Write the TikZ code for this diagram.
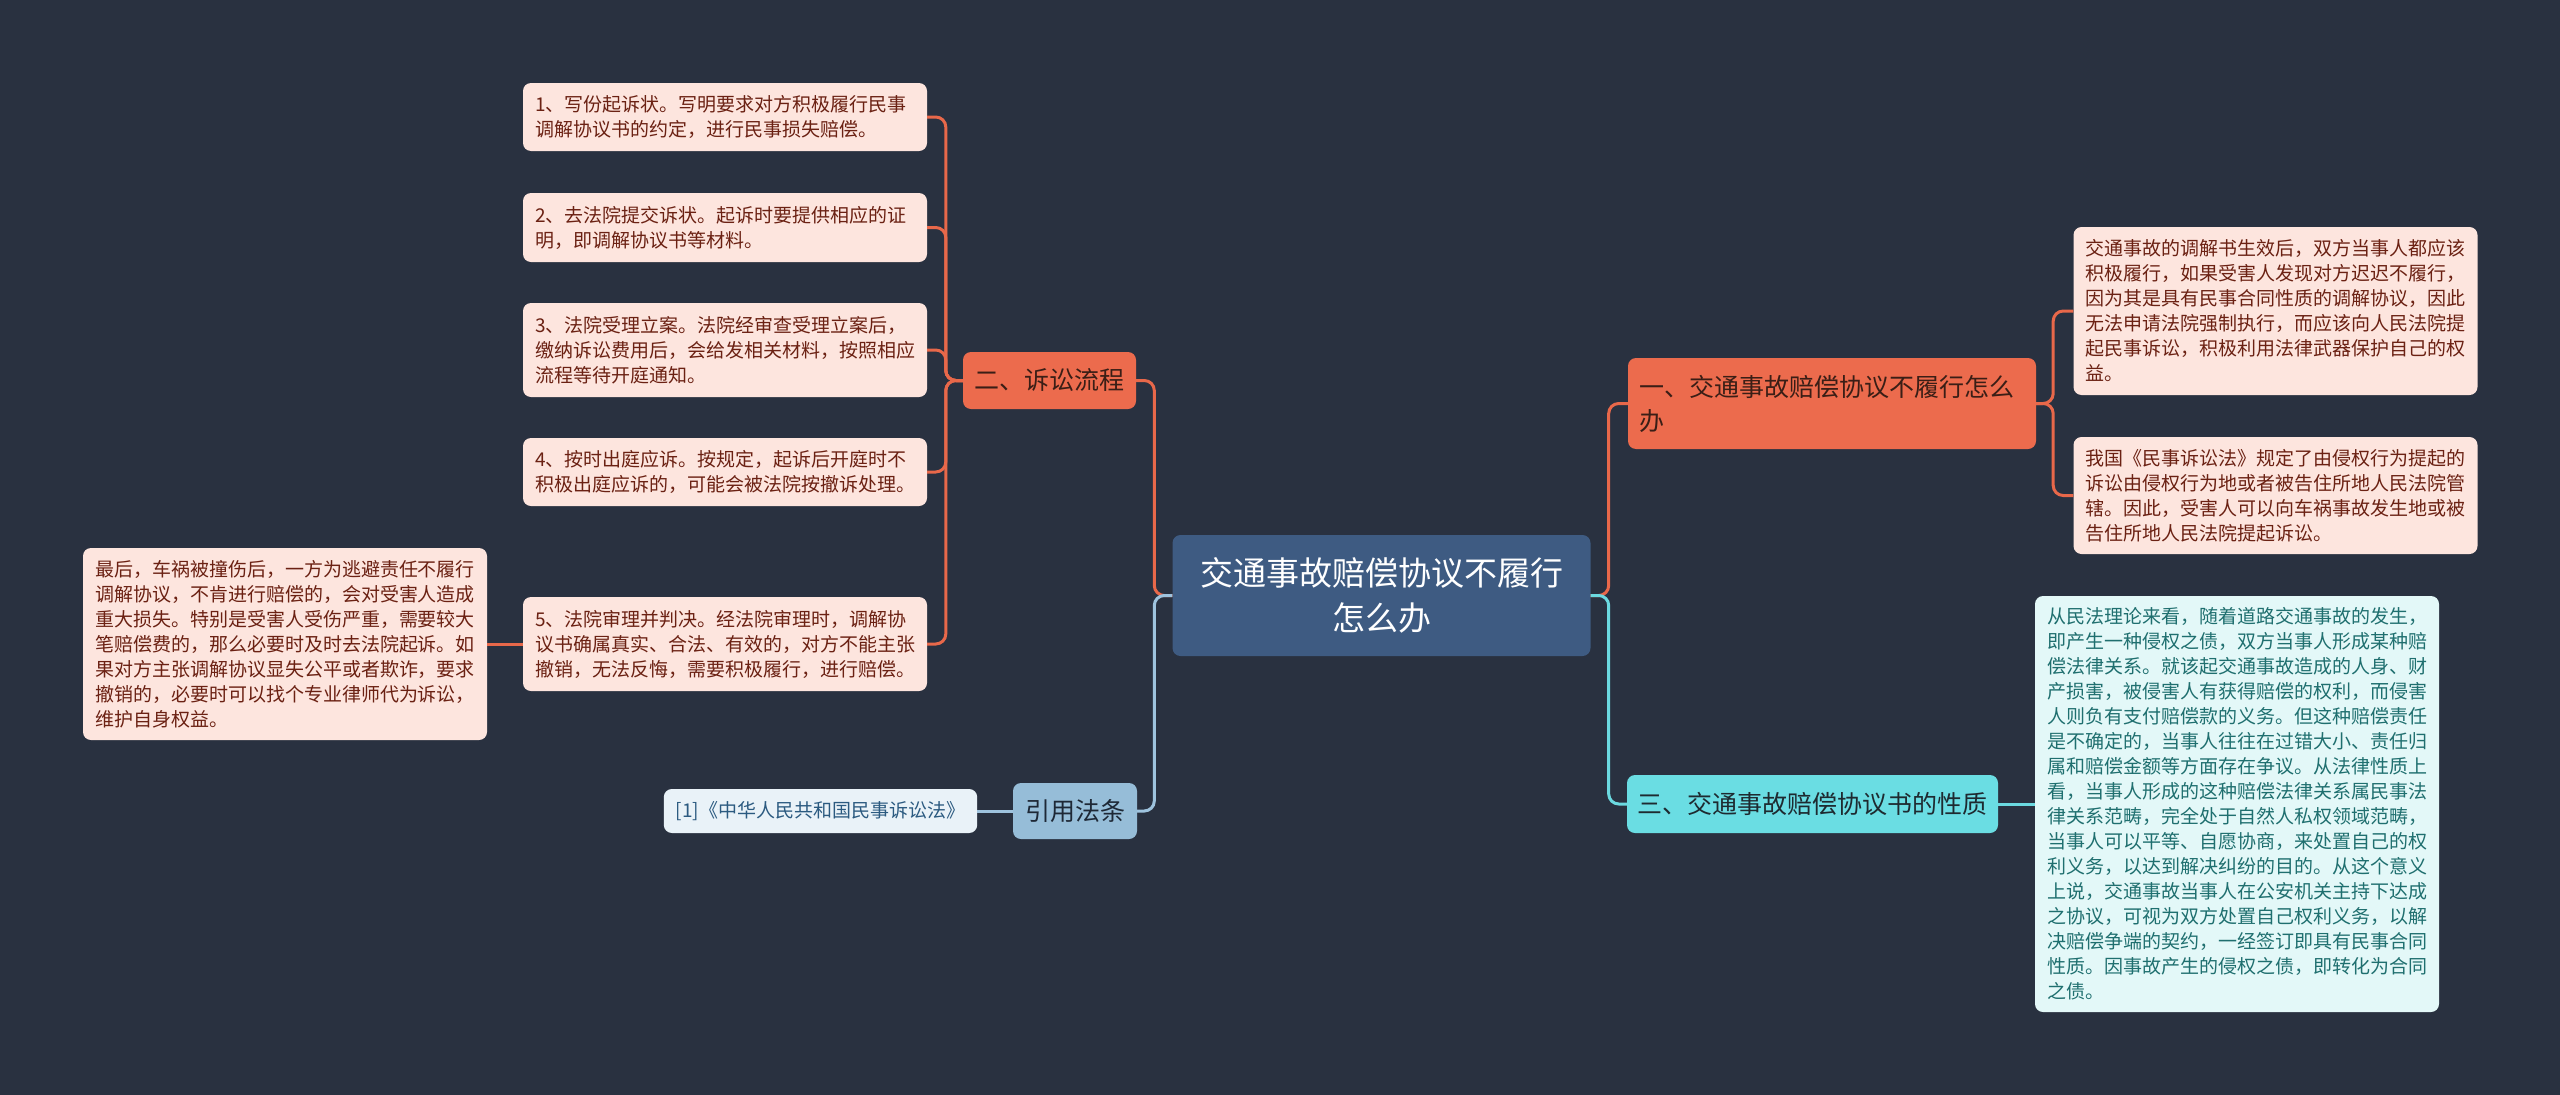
\documentclass[tikz,border=0pt]{standalone}
\usepackage{fontspec}
\setmainfont{Noto Sans CJK SC}
\usetikzlibrary{positioning}

\definecolor{bgdark}{HTML}{293140}
\definecolor{rootblue}{HTML}{3E5B82}
\definecolor{orangemain}{HTML}{EC6B4D}
\definecolor{orangetext}{HTML}{3A1E16}
\definecolor{pinkleaf}{HTML}{FDE5DE}
\definecolor{pinktext}{HTML}{6B2113}
\definecolor{orangeedge}{HTML}{E8684A}
\definecolor{cyanmain}{HTML}{6ADDE3}
\definecolor{cyantext}{HTML}{1E2A30}
\definecolor{cyanleaf}{HTML}{E3F8F8}
\definecolor{cyanleaftext}{HTML}{1F6F6F}
\definecolor{cyanedge}{HTML}{6BD9E0}
\definecolor{citeblue}{HTML}{96BDD8}
\definecolor{citetext}{HTML}{1E2836}
\definecolor{citeleaf}{HTML}{E9F2F8}
\definecolor{citeleaftext}{HTML}{2B5A80}
\definecolor{citeedge}{HTML}{9EC3DE}

\newcommand{\leaffont}{\fontsize{19pt}{25pt}\selectfont}
\newcommand{\mainfont}{\fontsize{25pt}{34pt}\selectfont}
\newcommand{\rootfont}{\fontsize{33pt}{45pt}\selectfont}

\tikzset{
    rootnode/.style={fill=rootblue,text=white,rounded corners=8pt,
        align=center,inner sep=0pt,font=\rootfont},
    mainnode/.style={rounded corners=8pt,inner sep=0pt,font=\mainfont},
    leafnode/.style={rounded corners=8pt,inner xsep=12pt,inner ysep=0pt,
        font=\leaffont},
    textleaf/.style={leafnode,text width=380pt,align=left},
    orangeleaf/.style={textleaf,fill=pinkleaf,text=pinktext},
    edgeline/.style={line width=3pt,rounded corners=10pt},
}

\begin{document}
\begin{tikzpicture}[x=1pt,y=-1pt]
    \useasboundingbox[fill=bgdark] (0,0) rectangle (2560,1095);

    % centre
    \node[rootnode,minimum width=418pt,minimum height=121pt] (root) at(1381.5,595.5)
        {交通事故赔偿协议不履行\\怎么办};

    % main topics
    \node[mainnode,fill=orangemain,text=orangetext,
        minimum width=173pt,minimum height=57pt] (two) at(1049.5,380.5) {二、诉讼流程};
    \node[mainnode,fill=citeblue,text=citetext,
        minimum width=124pt,minimum height=56pt] (cite) at(1075,811) {引用法条};
    \node[mainnode,fill=orangemain,text=orangetext,inner xsep=11pt,
        text width=386pt,align=left,minimum height=91pt] (one) at(1832,403.5)
        {一、交通事故赔偿协议不履行怎么\\办};
    \node[mainnode,fill=cyanmain,text=cyantext,
        minimum width=371pt,minimum height=58pt] (three) at(1812.5,804)
        {三、交通事故赔偿协议书的性质};

    % litigation steps
    \node[orangeleaf,minimum height=68pt] (l1) at(725,117)
        {1、写份起诉状。写明要求对方积极履行民事\\调解协议书的约定，进行民事损失赔偿。};
    \node[orangeleaf,minimum height=69pt] (l2) at(725,227.5)
        {2、去法院提交诉状。起诉时要提供相应的证\\明，即调解协议书等材料。};
    \node[orangeleaf,minimum height=94pt] (l3) at(725,350)
        {3、法院受理立案。法院经审查受理立案后，\\缴纳诉讼费用后，会给发相关材料，按照相应\\流程等待开庭通知。};
    \node[orangeleaf,minimum height=68pt] (l4) at(725,472)
        {4、按时出庭应诉。按规定，起诉后开庭时不\\积极出庭应诉的，可能会被法院按撤诉处理。};
    \node[orangeleaf,minimum height=94pt] (l5) at(725,644)
        {5、法院审理并判决。经法院审理时，调解协\\议书确属真实、合法、有效的，对方不能主张\\撤销，无法反悔，需要积极履行，进行赔偿。};
    \node[orangeleaf,minimum height=192pt] (last) at(285,644)
        {最后，车祸被撞伤后，一方为逃避责任不履行\\调解协议，不肯进行赔偿的，会对受害人造成\\重大损失。特别是受害人受伤严重，需要较大\\笔赔偿费的，那么必要时及时去法院起诉。如\\果对方主张调解协议显失公平或者欺诈，要求\\撤销的，必要时可以找个专业律师代为诉讼，\\维护自身权益。};

    % citation
    \node[leafnode,fill=citeleaf,text=citeleaftext,
        minimum width=313pt,minimum height=44pt] (citeitem) at(820.5,811)
        {[1]《中华人民共和国民事诉讼法》};

    % topic one
    \node[orangeleaf,minimum height=168pt] (la) at(2275.5,311)
        {交通事故的调解书生效后，双方当事人都应该\\积极履行，如果受害人发现对方迟迟不履行，\\因为其是具有民事合同性质的调解协议，因此\\无法申请法院强制执行，而应该向人民法院提\\起民事诉讼，积极利用法律武器保护自己的权\\益。};
    \node[orangeleaf,minimum height=117pt] (lb) at(2275.5,495.5)
        {我国《民事诉讼法》规定了由侵权行为提起的\\诉讼由侵权行为地或者被告住所地人民法院管\\辖。因此，受害人可以向车祸事故发生地或被\\告住所地人民法院提起诉讼。};

    % topic three
    \node[textleaf,fill=cyanleaf,text=cyanleaftext,minimum height=416pt] (lc) at(2237,804)
        {从民法理论来看，随着道路交通事故的发生，\\即产生一种侵权之债，双方当事人形成某种赔\\偿法律关系。就该起交通事故造成的人身、财\\产损害，被侵害人有获得赔偿的权利，而侵害\\人则负有支付赔偿款的义务。但这种赔偿责任\\是不确定的，当事人往往在过错大小、责任归\\属和赔偿金额等方面存在争议。从法律性质上\\看，当事人形成的这种赔偿法律关系属民事法\\律关系范畴，完全处于自然人私权领域范畴，\\当事人可以平等、自愿协商，来处置自己的权\\利义务，以达到解决纠纷的目的。从这个意义\\上说，交通事故当事人在公安机关主持下达成\\之协议，可视为双方处置自己权利义务，以解\\决赔偿争端的契约，一经签订即具有民事合同\\性质。因事故产生的侵权之债，即转化为合同\\之债。};

    % connectors
    \draw[edgeline,orangeedge] (root.west) -- ++(-18,0) |- (two.east);
    \draw[edgeline,citeedge] (root.west) -- ++(-18,0) |- (cite.east);
    \draw[edgeline,orangeedge] (root.east) -- ++(18,0) |- (one.west);
    \draw[edgeline,cyanedge] (root.east) -- ++(18,0) |- (three.west);
    \foreach \leaf in {l1,l2,l3,l4,l5}
        \draw[edgeline,orangeedge] (two.west) -- ++(-17,0) |- (\leaf.east);
    \draw[edgeline,orangeedge] (l5.west) -- (last.east);
    \draw[edgeline,orangeedge] (one.east) -- ++(17,0) |- (la.west);
    \draw[edgeline,orangeedge] (one.east) -- ++(17,0) |- (lb.west);
    \draw[edgeline,cyanedge] (three.east) -- (lc.west);
    \draw[edgeline,citeedge] (cite.west) -- (citeitem.east);
\end{tikzpicture}
\end{document}
